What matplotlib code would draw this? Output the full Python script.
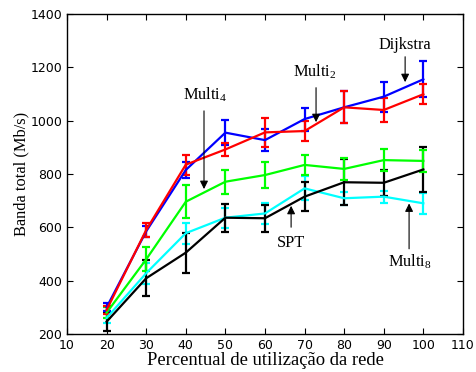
import matplotlib
matplotlib.use("Agg")
import matplotlib.pyplot as plt
import numpy as np

# data
x = [20, 30, 40, 50, 60, 70, 80, 90, 100]

dijkstra = [300, 585, 815, 955, 927, 1006, 1050, 1090, 1155]
dijkstra_err = [15, 20, 30, 48, 40, 43, 60, 56, 68]

multi2 = [290, 590, 835, 892, 956, 961, 1050, 1040, 1099]
multi2_err = [15, 25, 38, 26, 55, 38, 60, 45, 38]

multi4 = [280, 480, 696, 771, 796, 834, 819, 852, 849]
multi4_err = [20, 45, 62, 45, 48, 38, 40, 42, 40]

multi8 = [260, 428, 578, 636, 652, 746, 709, 715, 690]
multi8_err = [20, 40, 40, 38, 40, 45, 25, 22, 40]

spt = [246, 409, 505, 636, 634, 715, 769, 767, 817]
spt_err = [35, 67, 75, 53, 50, 55, 86, 48, 83]

series = [
    (multi8, multi8_err, "#00ffff"),
    (spt, spt_err, "black"),
    (multi4, multi4_err, "#00ff00"),
    (dijkstra, dijkstra_err, "blue"),
    (multi2, multi2_err, "red"),
]

serif = "Liberation Serif"
plt.rcParams["mathtext.fontset"] = "custom"
plt.rcParams["mathtext.rm"] = serif
plt.rcParams["mathtext.it"] = serif
plt.rcParams["mathtext.default"] = "rm"

fig = plt.figure(figsize=(4.77, 3.72), dpi=100)
ax = fig.add_axes([0.1405, 0.1022, 0.83, 0.8602])

for y, e, c in series:
    ax.errorbar(x, y, yerr=e, color=c, lw=1.6, elinewidth=1.6,
                capsize=3, capthick=1.6)

ax.set_xlim(10, 110)
ax.set_ylim(200, 1400)
ax.set_xticks(range(10, 111, 10))
ax.set_yticks(range(200, 1401, 200))
ax.tick_params(direction="in", top=True, right=True, labelsize=9, length=4)
for s in ax.spines.values():
    s.set_linewidth(1.0)

ax.set_xlabel("Percentual de utilização da rede", family=serif, fontsize=13.4, labelpad=0)
ax.set_ylabel("Banda total (Mb/s)", family=serif, fontsize=11.8, labelpad=1)

arrow = dict(arrowstyle="-|>", color="black", lw=0.8, mutation_scale=12)
tfont = dict(family=serif, fontsize=11.8)

ax.annotate("", xy=(95.4, 1134), xytext=(95.4, 1250), arrowprops=arrow)
ax.text(95.4, 1284, "Dijkstra", ha="center", va="center", **tfont)

ax.annotate("", xy=(72.9, 984), xytext=(72.9, 1134), arrowprops=arrow)
ax.text(72.6, 1182, "Multi$_2$", ha="center", va="center", **tfont)

ax.annotate("", xy=(44.6, 733), xytext=(44.6, 1047), arrowprops=arrow)
ax.text(44.8, 1096, "Multi$_4$", ha="center", va="center", **tfont)

ax.annotate("", xy=(66.6, 691), xytext=(66.6, 590), arrowprops=arrow)
ax.text(66.6, 541, "SPT", ha="center", va="center", **tfont)

ax.annotate("", xy=(96.4, 700), xytext=(96.4, 509), arrowprops=arrow)
ax.text(96.6, 470, "Multi$_8$", ha="center", va="center", **tfont)

fig.savefig("out.png", dpi=100)
